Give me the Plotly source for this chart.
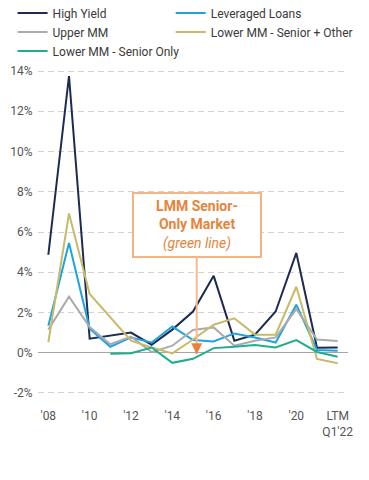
import plotly.graph_objects as go

years = [2008, 2009, 2010, 2011, 2012, 2013, 2014, 2015, 2016, 2017, 2018, 2019, 2020, 2021, 2022]
tick_vals = [2008, 2010, 2012, 2014, 2016, 2018, 2020, 2022]
tick_text = ["'08", "'10", "'12", "'14", "'16", "'18", "'20", "LTM<br>Q1'22"]

high_yield = [4.87, 13.75, 0.7, 0.85, 1.0, 0.4, 1.15, 2.05, 3.82, 0.6, 0.9, 2.05, 4.96, 0.25, 0.26]
leveraged_loans = [1.34, 5.45, 1.2, 0.3, 0.76, 0.51, 1.3, 0.63, 0.56, 0.96, 0.76, 0.51, 2.39, 0.14, 0.1]
upper_mm = [1.15, 2.79, 1.28, 0.42, 0.8, 0.03, 0.35, 1.13, 1.26, 0.35, 0.6, 0.76, 2.17, 0.66, 0.58]
lmm_senior_other = [0.52, 6.92, 2.92, 1.76, 0.6, 0.26, -0.03, 0.66, 1.39, 1.71, 0.9, 0.9, 3.28, -0.31, -0.52]
lmm_senior_only = [None, None, None, -0.05, -0.02, 0.26, -0.5, -0.3, 0.23, 0.3, 0.38, 0.26, 0.63, 0.04, -0.2]

# (name, values, colour, legend column)
series = [
    ("High Yield", high_yield, "#1c2b52", "legend"),
    ("Leveraged Loans", leveraged_loans, "#1fa3de", "legend2"),
    ("Upper MM", upper_mm, "#ababab", "legend"),
    ("Lower MM - Senior + Other", lmm_senior_other, "#c6ba6c", "legend2"),
    ("Lower MM - Senior Only", lmm_senior_only, "#1fad8e", "legend"),
]

fig = go.Figure()
for name, vals, color, leg in series:
    fig.add_trace(go.Scatter(
        x=years, y=vals, name=name, mode="lines",
        line=dict(color=color, width=2), connectgaps=False, legend=leg,
    ))

FONT = "Roboto"
legend_common = dict(
    orientation="v", yanchor="top", xanchor="left", itemwidth=30,
    font=dict(family=FONT, size=12, color="#3a3a3a"),
    bgcolor="rgba(0,0,0,0)", tracegroupgap=0, traceorder="normal",
)

fig.update_layout(
    width=361, height=472,
    margin=dict(l=30, r=21, t=62, b=86, autoexpand=False),
    paper_bgcolor="white", plot_bgcolor="white",
    font=dict(family=FONT, size=12, color="#555555"),
    showlegend=True,
    legend=dict(x=-0.082, y=1.221, **legend_common),
    legend2=dict(x=0.428, y=1.221, **legend_common),
    xaxis=dict(
        range=[2007.5, 2022.5], tickmode="array", tickvals=tick_vals, ticktext=tick_text,
        showgrid=False, zeroline=False, showline=False,
        ticks="outside", ticklen=11, tickcolor="rgba(0,0,0,0)",
        tickfont=dict(family=FONT, size=12, color="#555555"),
    ),
    yaxis=dict(
        range=[-2.05, 14.05], tickmode="array",
        tickvals=[-2, 0, 2, 4, 6, 8, 10, 12, 14],
        ticktext=["-2%", "0%", "2%", "4%", "6%", "8%", "10%", "12%", "14%"],
        showgrid=True, gridcolor="#d2d2d2", gridwidth=1, griddash="6px,4px",
        zeroline=True, zerolinecolor="#a6a6a6", zerolinewidth=1,
        showline=False, ticks="outside", ticklen=2, tickcolor="rgba(0,0,0,0)",
        tickfont=dict(family=FONT, size=12, color="#555555"),
    ),
)

# callout box with connector line
fig.add_annotation(
    x=2015.18, y=-0.07, xref="x", yref="y",
    ax=2015.18, ay=6.37, axref="x", ayref="y",
    text="<b>LMM Senior-</b><br><b>Only Market</b><br><i>(green line)</i>",
    font=dict(family=FONT, size=14, color="#e5843c"),
    showarrow=True, arrowhead=0, arrowwidth=2, arrowcolor="#f5bb90",
    bordercolor="#f2b486", borderwidth=2, borderpad=0,
    width=126, height=62, bgcolor="white", align="center",
)
# arrow head
fig.add_annotation(
    x=2015.18, y=-0.07, xref="x", yref="y",
    ax=0, ay=-9, text="", showarrow=True,
    arrowhead=2, arrowsize=1.1, arrowwidth=2, arrowcolor="#e8823a",
)

fig.write_html("out.html")
